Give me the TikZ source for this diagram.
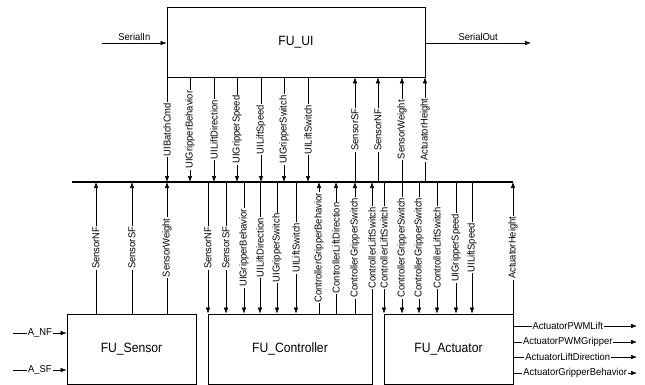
\documentclass[tikz,border=0pt]{standalone}
\usepackage{fontspec}
\setmainfont{Liberation Sans}
\newfontfamily\sigfont[FakeStretch=0.94]{Liberation Sans}
\newfontfamily\fufont[FakeStretch=0.9]{Liberation Sans}
\usetikzlibrary{arrows.meta, positioning, math}

\tikzset{
  fu/.style={draw, line width=0.7pt, minimum width=#1, minimum height=70pt,
    inner sep=0pt, font=\fufont\fontsize{13.5}{16}\selectfont},
  sig/.style={line width=0.6pt},
  sigto/.style={sig, -{Latex[length=6pt,width=4.5pt]}},
  vlbl/.style={rotate=90, fill=white, inner sep=1pt, font=\sigfont\fontsize{10}{12}\selectfont},
  hlbl/.style={fill=white, inner sep=1pt, font=\sigfont\fontsize{10}{12}\selectfont},
  tlbl/.style={above=1pt, inner sep=1pt, font=\sigfont\fontsize{10}{12}\selectfont},
}

\begin{document}
\begin{tikzpicture}[x=1pt,y=-1pt]

\useasboundingbox (0,0) rectangle (645,385);

% functional units
\node[fu=258pt] (ui)     at (296,42)    {FU\_UI};
\node[fu=129pt] (sensor) at (131.5,349) {FU\_Sensor};
\node[fu=164pt] (ctrl)   at (290,349)   {FU\_Controller};
\node[fu=129pt] (act)    at (448.5,349) {FU\_Actuator};

% bus
\coordinate (busL) at (72,182);
\coordinate (busR) at (513,182);
\draw[line width=1.6pt] (busL) -- (busR);

% serial lines
\coordinate (sin)  at (102,43);
\coordinate (sout) at (531,43);
\draw[sigto] (sin) -- node[tlbl]{SerialIn} (ui.west |- sin);
\draw[sigto] (ui.east |- sout) -- node[tlbl]{SerialOut} (sout);

%% FU_UI -> bus
\foreach \x/\t in {167/UIBatchCmd, 190/UIGripperBehavior, 214/UILiftDirection,
  237/UIGripperSpeed, 261/UILiftSpeed, 284/UIGripperSwitch, 308/UILiftSwitch}{
  \coordinate (c) at (\x,0);
  \draw[sigto] (ui.south -| c) -- node[vlbl]{\t} (busL -| c);
}
%% bus -> FU_UI
\foreach \x/\t in {355/SensorSF, 378/SensorNF, 402/SensorWeight, 425/ActuatorHeight}{
  \coordinate (c) at (\x,0);
  \draw[sigto] (busL -| c) -- node[vlbl]{\t} (ui.south -| c);
}

%% FU_Sensor -> bus
\foreach \x/\t in {96/SensorNF, 132/SensorSF, 167/SensorWeight}{
  \coordinate (c) at (\x,0);
  \draw[sigto] (sensor.north -| c) -- node[vlbl]{\t} (busL -| c);
}

%% bus -> FU_Controller
\foreach \x/\t in {208/SensorNF, 226/SensorSF, 244/UIGripperBehavior,
  260/UILiftDirection, 277/UIGripperSwitch, 296/UILiftSwitch}{
  \coordinate (c) at (\x,0);
  \draw[sigto] (busL -| c) -- node[vlbl]{\t} (ctrl.north -| c);
}
%% FU_Controller -> bus
\foreach \x/\t in {319/ControllerGripperBehavior, 336/ControllerLiftDirection,
  355/ControllerGripperSwitch, 372/ControllerLiftSwitch}{
  \coordinate (c) at (\x,0);
  \draw[sigto] (ctrl.north -| c) -- node[vlbl]{\t} (busL -| c);
}

%% bus -> FU_Actuator
\foreach \x/\t in {384/ControllerLiftSwitch, 402/ControllerGripperSwitch,
  419/ControllerGripperSwitch, 437/ControllerLiftSwitch, 456/UIGripperSpeed,
  472/UILiftSpeed}{
  \coordinate (c) at (\x,0);
  \draw[sigto] (busL -| c) -- node[vlbl]{\t} (act.north -| c);
}
%% FU_Actuator -> bus
\coordinate (c) at (513,0);
\draw[sigto] (act.north -| c) -- node[vlbl]{ActuatorHeight} (busR);

% sensor inputs
\coordinate (anf) at (13,333);
\coordinate (asf) at (13,370);
\draw[sigto] (anf) -- node[hlbl]{A\_NF} (sensor.west |- anf);
\draw[sigto] (asf) -- node[hlbl]{A\_SF} (sensor.west |- asf);

% actuator outputs
\foreach \y/\p/\t in {326/0.44/ActuatorPWMLift, 342/0.44/ActuatorPWMGripper,
  357/0.44/ActuatorLiftDirection, 373/0.5/ActuatorGripperBehavior}{
  \coordinate (o) at (637,\y);
  \draw[sigto] (act.east |- o) -- node[hlbl,pos=\p]{\t} (o);
}

\end{tikzpicture}
\end{document}
